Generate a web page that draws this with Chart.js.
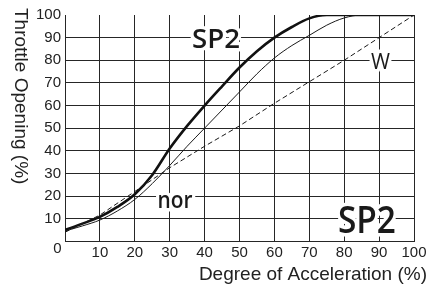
<!DOCTYPE html>
<html>
<head>
<meta charset="utf-8">
<script src="https://cdn.jsdelivr.net/npm/chart.js@4"></script>
<style>
  html, body { margin: 0; padding: 0; background: #fff; }
  #c { display: block; }
</style>
</head>
<body>
<canvas id="c" width="438" height="287"></canvas>
<script>
// ---- data ----
const accelFine   = [0, 5, 10, 15, 20, 25, 30, 35, 40, 45, 50, 55, 60, 65, 70, 75, 80, 85, 90, 95, 100];
const sp2Values   = [5, 7.8, 10.8, 15.2, 20.8, 29.3, 41, 51, 60, 68.5, 76.8, 84, 90, 94.7, 98.5, 100, 100, 100, 100, 100, 100];
const norValues   = [4.5, 6.8, 9.4, 13.4, 18.5, 25.5, 33.5, 42, 50, 58, 66, 74, 81, 86.5, 91, 95.5, 98.7, 100, 100, 100, 100];
const accelCoarse = [0, 10, 20, 30, 40, 50, 60, 70, 80, 90, 100];
const wValues     = [4, 11.6, 22, 32.5, 42, 51, 61, 70.5, 80, 90, 100];
const tickValues  = [0, 10, 20, 30, 40, 50, 60, 70, 80, 90, 100];
const xTitle = 'Degree of Acceleration (%)';
const yTitle = 'Throttle Opening (%)';
const curveLabels = ['SP2', 'W', 'nor', 'SP2'];

const pts = (xs, ys) => xs.map((x, i) => ({x: x, y: ys[i]}));

const INK = '#222';
const GRID = '#262626';

// label placement (style, not data): data-space anchor of baseline centre
const labelStyles = [
  {ax: 43.3, ay: 85.3, font: '600 27px "Open Sans"', w: 48},
  {ax: 90.4, ay: 76.1, font: '400 21px "Open Sans"', w: 19},
  {ax: 31.5, ay: 14.6, font: '600 23px "Open Sans"', w: 35},
  {ax: 86.5, ay: 3.5,  font: '600 37px "Open Sans"', w: 58}
];

const extras = {
  id: 'extras',
  beforeDatasetsDraw(chart) {
    const ctx = chart.ctx, xs = chart.scales.x, ys = chart.scales.y;
    curveLabels.forEach((txt, i) => {
      const s = labelStyles[i];
      ctx.save();
      ctx.font = s.font;
      const mw = ctx.measureText(txt).width;
      const k = s.w / mw;
      ctx.translate(xs.getPixelForValue(s.ax), ys.getPixelForValue(s.ay));
      ctx.scale(k, 1);
      ctx.textAlign = 'center';
      ctx.textBaseline = 'alphabetic';
      ctx.lineJoin = 'round';
      ctx.strokeStyle = '#fff';
      ctx.lineWidth = 7;
      ctx.strokeText(txt, 0, 0);
      ctx.fillStyle = '#1a1a1a';
      ctx.fillText(txt, 0, 0);
      ctx.restore();
    });
  },
  afterDraw(chart) {
    const ctx = chart.ctx, xs = chart.scales.x, ys = chart.scales.y;
    ctx.save();
    ctx.fillStyle = INK;
    // shared origin label "0"
    ctx.font = '15px "Liberation Sans", Arial, sans-serif';
    ctx.textAlign = 'right';
    ctx.textBaseline = 'middle';
    ctx.fillText(String(tickValues[0]), xs.left - 3.5, ys.getPixelForValue(0) + 7.5);
    // x title
    ctx.font = '19px "Liberation Sans", Arial, sans-serif';
    ctx.textAlign = 'right';
    ctx.textBaseline = 'alphabetic';
    ctx.fillText(xTitle, 427, 280);
    // y title (rotated clockwise)
    ctx.translate(14.5, 8);
    ctx.rotate(Math.PI / 2);
    ctx.textAlign = 'left';
    ctx.fillText(yTitle, 0, 0);
    ctx.restore();
  }
};

new Chart(document.getElementById('c'), {
  type: 'line',
  data: {
    datasets: [
      {label: 'W', data: pts(accelCoarse, wValues), borderColor: '#1a1a1a', borderWidth: 1,
       borderDash: [5, 3], tension: 0, pointRadius: 0, fill: false},
      {label: 'nor', data: pts(accelFine, norValues), borderColor: '#1a1a1a', borderWidth: 1,
       cubicInterpolationMode: 'monotone', pointRadius: 0, fill: false},
      {label: 'SP2', data: pts(accelFine, sp2Values), borderColor: '#111', borderWidth: 2.6,
       cubicInterpolationMode: 'monotone', pointRadius: 0, fill: false}
    ]
  },
  options: {
    responsive: false,
    animation: false,
    devicePixelRatio: 1,
    layout: {padding: {top: 15, right: 24, left: 0, bottom: 0}},
    plugins: {legend: {display: false}, tooltip: {enabled: false}},
    scales: {
      x: {
        type: 'linear', min: 0, max: 100,
        afterBuildTicks: (sc) => { sc.ticks = tickValues.map(v => ({value: v})); },
        afterFit: (sc) => { sc.height = 45.7; },
        ticks: {
          callback: (v) => v === 0 ? '' : String(v),
          font: {family: '"Liberation Sans", Arial, sans-serif', size: 15},
          color: INK, padding: 3, maxRotation: 0, autoSkip: false
        },
        grid: {color: GRID, lineWidth: 1, drawTicks: false},
        border: {display: true, color: GRID, width: 1}
      },
      y: {
        type: 'linear', min: 0, max: 100,
        afterBuildTicks: (sc) => { sc.ticks = tickValues.map(v => ({value: v})); },
        afterFit: (sc) => { sc.width = 65; },
        ticks: {
          callback: (v) => v === 0 ? '' : String(v),
          font: {family: '"Liberation Sans", Arial, sans-serif', size: 15},
          color: INK, padding: 4, autoSkip: false
        },
        grid: {
          color: (c) => (c.tick && c.tick.value === 100) ? 'rgba(0,0,0,0)' : GRID,
          lineWidth: 1, drawTicks: false
        },
        border: {display: true, color: GRID, width: 1}
      }
    }
  },
  plugins: [extras]
});
</script>
</body>
</html>
